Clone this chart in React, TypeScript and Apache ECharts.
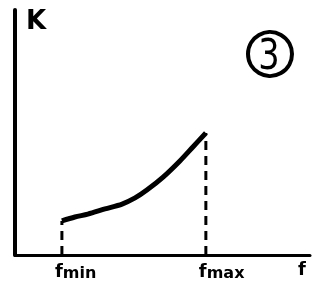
import React, { useEffect, useRef } from "react";
import * as echarts from "echarts";

const curveX = [1.59, 2.03, 2.47, 3.05, 3.63, 4.07, 4.47, 5.02, 5.59, 6.03, 6.47];
const curveY = [1.39, 1.55, 1.67, 1.88, 2.08, 2.33, 2.65, 3.18, 3.84, 4.41, 4.98];
const boundLabels = ["min", "max"];
const axisNames = { x: "f", y: "K" };
const badge = "3";

const txt = { fontFamily: "DejaVu Sans", fontWeight: "bold", color: "#000" };

export default function App() {
  const ref = useRef<HTMLDivElement>(null);
  useEffect(() => {
    const chart = echarts.init(ref.current!, null, { renderer: "svg" });
    const curve = curveX.map((x, i) => [x, curveY[i]]);
    const ends = [curve[0], curve[curve.length - 1]];
    const dashSeries = ends.map((p) => ({
      type: "line",
      symbol: "none",
      lineStyle: { color: "#000", width: 3, type: [9, 6] },
      data: [[p[0], 0], p],
    }));
    chart.setOption({
      animation: false,
      grid: { left: 15, right: 16, top: 10, bottom: 39, containLabel: false, outerBoundsMode: "none" },
      xAxis: {
        type: "value",
        min: 0,
        max: 10,
        name: axisNames.x,
        nameLocation: "end",
        nameGap: -12,
        nameTextStyle: { ...txt, fontSize: 18, verticalAlign: "top", align: "left", padding: [4, 0, 0, 0] },
        axisLine: { show: true, lineStyle: { color: "#000", width: 3 } },
        axisTick: { show: false },
        splitLine: { show: false },
        axisLabel: { show: false },
      },
      yAxis: {
        type: "value",
        min: 0,
        max: 10,
        name: axisNames.y,
        nameLocation: "end",
        nameGap: -23,
        nameTextStyle: { ...txt, fontSize: 26, align: "left", padding: [0, 0, 0, 11] },
        axisLine: { show: true, lineStyle: { color: "#000", width: 4 } },
        axisTick: { show: false },
        axisLabel: { show: false },
        splitLine: { show: false },
      },
      series: [
        {
          type: "line",
          data: curve,
          smooth: 0.3,
          symbol: "none",
          lineStyle: { color: "#000", width: 5 },
          z: 3,
          markPoint: {
            symbol: "circle",
            symbolSize: 1,
            itemStyle: { color: "rgba(0,0,0,0)" },
            label: {
              show: true,
              position: "bottom",
              distance: 5,
              align: "left",
              offset: [-7, 0],
              rich: {
                a: { ...txt, fontSize: 18 },
                b: { ...txt, fontSize: 16, padding: [4, 0, 0, 0] },
              },
            },
            data: ends.map((p, i) => ({
              coord: [p[0], 0],
              value: boundLabels[i],
              label: { formatter: `{a|f}{b|${boundLabels[i]}}` },
            })),
          },
        },
        ...dashSeries,
      ],
      graphic: [
        {
          type: "circle",
          shape: { cx: 270, cy: 54, r: 22 },
          style: { fill: "none", stroke: "#000", lineWidth: 4 },
        },
        {
          type: "text",
          x: 269,
          y: 55,
          scaleX: 0.8,
          style: {
            text: badge,
            fill: "#000",
            fontFamily: "DejaVu Sans",
            fontSize: 42,
            align: "center",
            verticalAlign: "middle",
          },
        },
      ],
    });
    return () => chart.dispose();
  }, []);
  return <div ref={ref} style={{ width: 326, height: 294, position: "fixed", left: 0, top: 0 }} />;
}
